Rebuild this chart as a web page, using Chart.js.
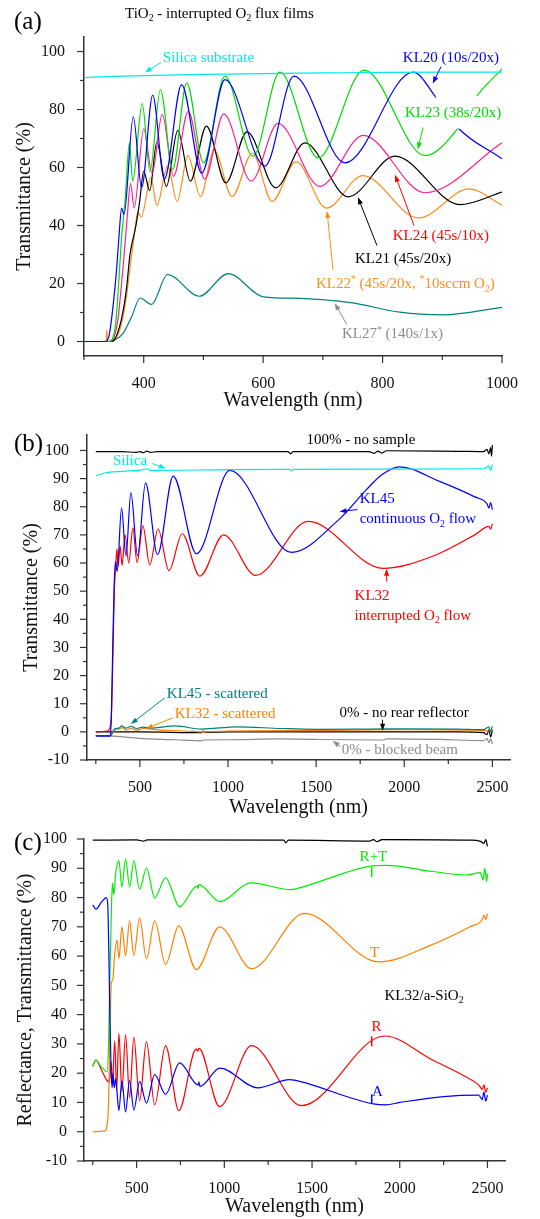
<!DOCTYPE html>
<html>
<head>
<meta charset="utf-8">
<script src="https://cdn.jsdelivr.net/npm/chart.js@4.4.0/dist/chart.umd.min.js"></script>
<style>
  html, body { margin: 0; padding: 0; background: #fff; }
  #wrap { width: 540px; height: 1219px; }
  canvas { display: block; }
</style>
</head>
<body>
<div id="wrap">
  <canvas id="panel-a" width="540" height="415"></canvas>
  <canvas id="panel-b" width="540" height="405"></canvas>
  <canvas id="panel-c" width="540" height="399"></canvas>
</div>
<script>
// ---- (a) TiO2 films, wavelength (nm) vs transmittance (%) ----
const silicaA = [[300,91.0],[350,91.4],[400,91.7],[500,92.1],[600,92.4],[700,92.6],[800,92.8],[900,92.9],[1000,92.9]];
const kl20 = [[300,0],[336,0],[342,2],[348,11],[355,26],[359,37.5],[363,46],[367,43.8],[382.5,77.5],[396.5,53],[415,85],[434.5,56],[463.5,88.6],[497,58],[536,90.3],[603,60.5],[651.5,91.5],[737,61.6],[851,92.9],[890,84],[926,73.7],[1000,63]];
const kl23 = [[300,0],[343,0],[348,1],[353,6],[358,20],[363,36],[369,49],[376,68.5],[381.5,55.3],[397.5,82],[410.5,58.7],[428,86.9],[448.5,59.3],[472,89.2],[500,61.6],[536,91.5],[583,63.9],[628,92.9],[692,63.3],[769,93.6],[871,64.1],[926,73.5],[957,84.4],[1000,94]];
const kl24 = [[300,0],[340,0],[350,1.5],[357,8],[362,18],[366,27],[372,42],[378,54.5],[384,46],[400,73.3],[414,58],[431,78.3],[450,57],[474.6,79.4],[502,56],[534,78.5],[580,55.3],[625,75.2],[695,53.5],[767.6,71.1],[871,51.3],[1000,68.5]];
const kl21 = [[300,0],[345,0],[352,1],[363,8],[371,18],[377,30],[387,40],[393,48],[400,58.7],[410,52],[422,68.7],[438,53.5],[457,72.8],[478,55.3],[505,74.3],[537.5,54.7],[573,72.3],[621,53],[670,68.5],[742.5,49.9],[820.6,63.9],[929.5,47.2],[1000,51.5]];
const kl22 = [[300,0],[337,0],[338,4],[339.5,0],[350,0.5],[360,4],[370,14],[378,27],[385,38],[390,44.5],[396,43],[412,56.5],[422,46.9],[440,60.5],[456,48.3],[474,64.1],[495,50],[518,66],[548,50],[582,65],[615,48.3],[655,62],[706,46],[767,57.2],[860,42.6],[945,52.6],[1000,47]];
const kl27 = [[300,0],[340,0],[349,0.3],[366,3],[380,8.7],[394,15],[413,12.8],[440,23.1],[493,15.6],[541.5,23.4],[600,15.4],[661,14.9],[717,14.1],[750,13.3],[829,10.1],[901,9.2],[1000,11.8]];
const xMajorA = [400, 600, 800, 1000];
const xMinorA = [300, 500, 700, 900];
const yMajorA = [0, 20, 40, 60, 80, 100];
const yMinorA = [10, 30, 50, 70, 90];

// ---- (b) KL45 / KL32 and references ----
const noSampleB = [[250,99.6],[400,99.6],[480,99.3],[500,99.6],[520,99.2],[540,99.8],[560,99.3],[600,99.6],[1000,99.6],[1340,99.6],[1355,98.8],[1370,99.6],[1800,99.6],[1830,99.0],[1850,99.8],[1870,99.1],[1900,99.9],[2300,99.7],[2450,99.6],[2470,100.4],[2480,98.8],[2490,101],[2495,98],[2500,102]];
const silicaB = [[250,91],[300,92],[400,92.6],[500,93],[540,93.5],[560,92.9],[1000,93.2],[1350,93.3],[1360,92.8],[1370,93.3],[2000,93.4],[2450,93.5],[2480,94.5],[2490,93],[2500,95]];
const kl45 = [[250,-1.5],[332,-1.5],[338,5],[346,30],[354,52],[362,60.6],[371,57],[396,79.6],[421,62.5],[449,85],[487,62.6],[532,88.5],[600,63],[689,90.9],[821,63.3],[1010,92.9],[1360,63.8],[1633,75.7],[1784,86],[1878,91.6],[1973,94.2],[2200,89],[2400,83.5],[2470,81],[2480,79.5],[2490,81.5],[2500,79]];
const kl32 = [[250,0],[315,0.3],[330,1.5],[340,8],[348,30],[355,50],[362,58],[370,65],[376,58.5],[388,66],[399,59.2],[416,70],[437,60],[460,72.5],[484,60.2],[517,73.2],[556,59.3],[603,72.1],[665,57.3],[740,70.4],[840,55.3],[975,70],[1157,55.6],[1455,74.8],[1880,58.1],[2161,62.4],[2400,70],[2480,73],[2490,72],[2500,74]];
const scat45 = [[250,-1.3],[335,-1.3],[345,0],[360,1.2],[380,1.3],[396,2.1],[420,1.3],[450,2],[480,1.2],[520,1.7],[560,1.3],[600,1.5],[700,2.1],[850,1],[1050,1.8],[1300,1.2],[1500,0.9],[1800,1],[2000,1.1],[2300,1],[2450,0.8],[2480,1.8],[2490,0],[2500,2]];
const scat32 = [[250,-1.3],[335,-1.3],[345,-0.5],[360,0.8],[380,1],[400,1.5],[420,0.6],[450,1.3],[480,0.6],[520,1.2],[600,0.7],[800,0.2],[850,0],[1000,0.3],[1500,0.5],[2000,0.8],[2400,0.6],[2490,0.3],[2500,1]];
const zeroRear = [[250,0],[500,0],[850,-0.3],[860,0.3],[870,-0.2],[1000,0],[1500,0],[2300,0],[2450,-0.3],[2470,-1],[2480,0.8],[2490,-1.8],[2500,0.5]];
const blocked = [[250,-1.3],[330,-1.4],[500,-2.3],[700,-2.8],[850,-3.2],[860,-2.9],[1000,-2.8],[1300,-2.5],[1500,-2.7],[1880,-2.9],[1900,-2.5],[2200,-2.7],[2450,-3.1],[2470,-2.4],[2480,-3.8],[2490,-2.5],[2500,-4.2]];
const xMajorBC = [500, 1000, 1500, 2000, 2500];
const xMinorBC = [250, 750, 1250, 1750, 2250];
const yMajorBC = [-10, 0, 10, 20, 30, 40, 50, 60, 70, 80, 90, 100];
const yMinorBC = [-5, 5, 15, 25, 35, 45, 55, 65, 75, 85, 95];

// ---- (c) KL32 on a-SiO2: R, T, R+T, A ----
const top100C = [[250,99.6],[500,99.7],[540,99.3],[560,99.7],[1340,99.6],[1350,98.7],[1365,99.6],[1830,99.3],[1850,99.8],[1870,99.1],[1900,99.8],[2400,99.6],[2460,99.2],[2480,98.5],[2490,99.8],[2500,97.5]];
const sumRT = [[250,22.4],[268,24.5],[300,22],[331,20.5],[340,30],[348,55],[356,75],[362,84.9],[370,81],[380,88],[399,92.6],[416,83.6],[437,93.2],[460,83.6],[484,92.6],[517,82.8],[556,90.1],[603,79.9],[665,86.7],[745,76.9],[845,84],[850,83.2],[855,84.4],[975,78.6],[1150,85],[1380,82.7],[1410,83],[1810,90.5],[1923,91],[2188,88.9],[2378,87.7],[2460,88.5],[2475,86],[2485,90],[2495,85.5],[2500,88]];
const transT = [[250,0],[320,0.3],[330,1.7],[340,10],[348,35],[356,51],[364,51.8],[374,60],[388,65.5],[399,59.2],[416,70],[437,60],[460,72],[484,60.2],[517,73],[556,59],[603,72],[665,57.2],[740,70.3],[840,55.4],[973,70],[1155,55.7],[1457,74.6],[1880,58],[2188,64],[2400,70],[2470,72.5],[2480,74],[2490,72.5],[2500,74.5]];
const reflR = [[250,22.4],[268,24.5],[300,21],[331,17.5],[345,17],[355,24],[362,16],[375,31],[386,14],[399,33.6],[416,13.7],[437,33.1],[460,11.7],[484,32.3],[517,10.6],[556,30.8],[603,9.2],[665,29.4],[740,7.2],[840,28.3],[848,27.5],[855,28.5],[973,8.6],[1155,29.4],[1440,8.9],[1913,32.7],[2187,24.5],[2376,18.8],[2450,16],[2470,14.5],[2480,16],[2490,13.5],[2500,15]];
const absA = [[250,77.5],[268,76],[300,78.5],[327,80],[335,78],[342,60],[348,38],[354,22],[360,15],[366,20],[372,15],[380,18],[399,7.2],[416,17.5],[437,6.8],[460,17.5],[484,7.4],[517,17.2],[556,9.8],[603,19.5],[665,12.8],[745,23.5],[850,16],[855,17],[860,15.5],[975,21.7],[1190,15],[1372,17.8],[1400,17.6],[1850,9.5],[1920,9.2],[2000,10],[2250,12],[2450,12.5],[2470,11],[2480,13.5],[2490,10.5],[2500,12.5]];

const FONT = '"Liberation Serif", "Times New Roman", serif';

function fontOf(size) { return size + 'px ' + FONT; }

// text with sub/superscripts: parts = [[text], [text, 'sub'|'sup'], ...]
function drawRich(ctx, parts, x, y, size, color, align) {
    let w = 0;
    parts.forEach(p => { ctx.font = fontOf(p[1] ? size * 0.65 : size); w += ctx.measureText(p[0]).width; });
    let cx = align === 'center' ? x - w / 2 : x;
    ctx.fillStyle = color;
    ctx.textAlign = 'left';
    ctx.textBaseline = 'middle';
    parts.forEach(p => {
        ctx.font = fontOf(p[1] ? size * 0.65 : size);
        const dy = p[1] === 'sub' ? size * 0.32 : p[1] === 'sup' ? -size * 0.3 : 0;
        ctx.fillText(p[0], cx, y + dy);
        cx += ctx.measureText(p[0]).width;
    });
}

function drawArrow(ctx, x1, y1, x2, y2, color) {
    const ang = Math.atan2(y2 - y1, x2 - x1);
    const len = 7, half = 2.6;
    const c = Math.cos(ang), s = Math.sin(ang);
    ctx.strokeStyle = color;
    ctx.fillStyle = color;
    ctx.lineWidth = 1;
    ctx.beginPath();
    ctx.moveTo(x1, y1);
    ctx.lineTo(x2 - c * len * 0.8, y2 - s * len * 0.8);
    ctx.stroke();
    ctx.beginPath();
    ctx.moveTo(x2, y2);
    ctx.lineTo(x2 - len * c + half * s, y2 - len * s - half * c);
    ctx.lineTo(x2 - len * c - half * s, y2 - len * s + half * c);
    ctx.closePath();
    ctx.fill();
}

// outward major/minor tick marks
const axisTicks = {
    id: 'axisTicks',
    afterDraw(chart, args, opts) {
        const {ctx, chartArea: a} = chart;
        const xs = chart.scales.x, ys = chart.scales.y;
        const seg = (x1, y1, x2, y2) => { ctx.beginPath(); ctx.moveTo(x1, y1); ctx.lineTo(x2, y2); ctx.stroke(); };
        ctx.save();
        ctx.strokeStyle = '#333';
        ctx.lineWidth = 1.2;
        opts.xMajor.forEach(v => { const p = xs.getPixelForValue(v); seg(p, a.bottom, p, a.bottom + 7); });
        opts.xMinor.forEach(v => { const p = xs.getPixelForValue(v); seg(p, a.bottom, p, a.bottom + 4); });
        opts.yMajor.forEach(v => { const p = ys.getPixelForValue(v); seg(a.left, p, a.left - 7, p); });
        opts.yMinor.forEach(v => { const p = ys.getPixelForValue(v); seg(a.left, p, a.left - 4, p); });
        ctx.restore();
    }
};

// labels, arrows and masks given in data coordinates
const notes = {
    id: 'notes',
    afterDatasetsDraw(chart, args, opts) {
        const {ctx} = chart;
        const px = v => chart.scales.x.getPixelForValue(v);
        const py = v => chart.scales.y.getPixelForValue(v);
        ctx.save();
        (opts.boxes || []).forEach(b => {
            ctx.fillStyle = '#fff';
            ctx.fillRect(px(b.x1), py(b.y1), px(b.x2) - px(b.x1), py(b.y2) - py(b.y1));
        });
        (opts.arrows || []).forEach(a => drawArrow(ctx, px(a.from[0]), py(a.from[1]), px(a.to[0]), py(a.to[1]), a.color));
        (opts.bars || []).forEach(b => {
            ctx.strokeStyle = b.color;
            ctx.lineWidth = 1.5;
            ctx.beginPath();
            ctx.moveTo(px(b.x), py(b.y1));
            ctx.lineTo(px(b.x), py(b.y2));
            ctx.stroke();
        });
        (opts.labels || []).forEach(l => drawRich(ctx, l.parts, px(l.at[0]), py(l.at[1]), l.size || 15, l.color, l.align || 'left'));
        (opts.fixed || []).forEach(l => drawRich(ctx, l.parts, l.px, l.py, l.size, l.color || '#000', 'left'));
        ctx.restore();
    }
};

function buildPanel(id, p) {
    const canvas = document.getElementById(id);
    const W = canvas.width, H = canvas.height;
    const tickFont = {family: FONT, size: 16};
    const titleFont = {family: FONT, size: 20};
    return new Chart(canvas, {
        type: 'scatter',
        data: {
            datasets: p.series.map(s => ({
                data: s.data,
                borderColor: s.color,
                borderWidth: 1.2,
                showLine: true,
                pointRadius: 0,
                fill: false,
                cubicInterpolationMode: 'monotone'
            }))
        },
        options: {
            responsive: false,
            animation: false,
            devicePixelRatio: 1,
            layout: {padding: {top: p.area.top, right: W - p.area.right, left: 0, bottom: 0}},
            plugins: {
                legend: {display: false},
                tooltip: {enabled: false},
                axisTicks: {xMajor: p.xMajor, xMinor: p.xMinor, yMajor: p.yMajor, yMinor: p.yMinor},
                notes: p.notes
            },
            scales: {
                x: {
                    type: 'linear',
                    min: p.xRange[0],
                    max: p.xRange[1],
                    afterFit: s => { s.height = H - p.area.bottom; },
                    afterBuildTicks: s => { s.ticks = p.xMajor.map(v => ({value: v})); },
                    grid: {display: false},
                    border: {display: true, color: '#333', width: 1.5},
                    ticks: {padding: 10, color: '#111', font: tickFont, maxRotation: 0, autoSkip: false, callback: v => String(v)},
                    title: {display: true, text: 'Wavelength (nm)', color: '#111', font: titleFont, padding: {top: 0, bottom: p.xTitlePad}}
                },
                y: {
                    min: p.yRange[0],
                    max: p.yRange[1],
                    afterFit: s => { s.width = p.area.left; },
                    afterBuildTicks: s => { s.ticks = p.yMajor.map(v => ({value: v})); },
                    grid: {display: false},
                    border: {display: true, color: '#333', width: 1.5},
                    ticks: {padding: p.yTickPad, color: '#111', font: tickFont, autoSkip: false, callback: v => String(v)},
                    title: {display: true, text: p.yTitle, color: '#111', font: titleFont, padding: {top: p.yTitlePad, bottom: 0}}
                }
            }
        },
        plugins: [axisTicks, notes]
    });
}

// (a)
buildPanel('panel-a', {
    area: {left: 84, right: 502, top: 37, bottom: 356},
    xRange: [300, 1000], yRange: [-5, 105],
    xMajor: xMajorA, xMinor: xMinorA, yMajor: yMajorA, yMinor: yMinorA,
    yTitle: 'Transmittance (%)', yTitlePad: 13, yTickPad: 11, xTitlePad: 2,
    series: [
        {data: silicaA, color: '#00e8e8'},
        {data: kl20, color: '#0000ff'},
        {data: kl23, color: '#00dd00'},
        {data: kl24, color: '#ff2090'},
        {data: kl21, color: '#000000'},
        {data: kl22, color: '#ff8c1a'},
        {data: kl27, color: '#008080'}
    ],
    notes: {
        boxes: [{x1: 889, x2: 1000, y1: 84.6, y2: 73.4}],
        arrows: [
            {from: [429, 96.2], to: [402, 92.8], color: '#00e8e8'},
            {from: [898, 94.8], to: [884, 89], color: '#0000ff'},
            {from: [867.6, 73.8], to: [859, 66.2], color: '#00dd00'},
            {from: [852.6, 40], to: [820.8, 57.5], color: '#ff0000'},
            {from: [790.6, 33.1], to: [758.8, 49.7], color: '#000000'},
            {from: [716.9, 24.8], to: [707, 45], color: '#ff8c1a'},
            {from: [740, 5.9], to: [720, 13.2], color: '#8c8c8c'}
        ],
        labels: [
            {parts: [['Silica substrate']], at: [432, 97.9], color: '#00e8e8'},
            {parts: [['KL20 (10s/20x)']], at: [834, 97.9], color: '#0000ff'},
            {parts: [['KL23 (38s/20x)']], at: [837.5, 78.6], color: '#00dd00'},
            {parts: [['KL24 (45s/10x)']], at: [817, 36.3], color: '#ff0000'},
            {parts: [['KL21 (45s/20x)']], at: [753.8, 28.3], color: '#000000'},
            {parts: [['KL22'], ['*', 'sup'], [' (45s/20x, '], ['*', 'sup'], ['10sccm O'], ['2', 'sub'], [')']], at: [688.5, 19.7], color: '#ff8c1a'},
            {parts: [['KL27'], ['*', 'sup'], [' (140s/1x)']], at: [732, 2.4], color: '#8c8c8c'}
        ],
        fixed: [
            {parts: [['(a)']], px: 14, py: 22, size: 25},
            {parts: [['TiO'], ['2', 'sub'], [' - interrupted O'], ['2', 'sub'], [' flux films']], px: 125, py: 14, size: 15}
        ]
    }
});

// (b)
buildPanel('panel-b', {
    area: {left: 87, right: 510, top: 20, bottom: 345},
    xRange: [200, 2600], yRange: [-10, 105.5],
    xMajor: xMajorBC, xMinor: xMinorBC, yMajor: yMajorBC, yMinor: yMinorBC,
    yTitle: 'Transmittance (%)', yTitlePad: 20, yTickPad: 10, xTitlePad: 0,
    series: [
        {data: noSampleB, color: '#000000'},
        {data: silicaB, color: '#00e8e8'},
        {data: kl45, color: '#0000ff'},
        {data: kl32, color: '#ff0000'},
        {data: scat45, color: '#008080'},
        {data: scat32, color: '#ff8000'},
        {data: zeroRear, color: '#000000'},
        {data: blocked, color: '#8c8c8c'}
    ],
    notes: {
        arrows: [
            {from: [568, 95.4], to: [647, 93.6], color: '#00e8e8'},
            {from: [1735, 79], to: [1633, 78.3], color: '#0000ff'},
            {from: [1900, 53.4], to: [1900, 58], color: '#ff0000'},
            {from: [641.6, 12.1], to: [449, 2.8], color: '#008080'},
            {from: [687, 5], to: [534, 1.1], color: '#ff8000'},
            {from: [1877, 4.3], to: [1877, 0.4], color: '#000000'},
            {from: [1639, -5.3], to: [1594, -3.2], color: '#8c8c8c'}
        ],
        labels: [
            {parts: [['100% - no sample']], at: [1446, 103.6], color: '#000000'},
            {parts: [['Silica']], at: [347, 96.1], color: '#00e8e8'},
            {parts: [['KL45']], at: [1747, 82.6], color: '#0000ff'},
            {parts: [['continuous O'], ['2', 'sub'], [' flow']], at: [1747, 75.5], color: '#0000ff'},
            {parts: [['KL32']], at: [1718, 48.4], color: '#ff0000'},
            {parts: [['interrupted O'], ['2', 'sub'], [' flow']], at: [1718, 41.3], color: '#ff0000'},
            {parts: [['KL45 - scattered']], at: [653, 13.5], color: '#008080'},
            {parts: [['KL32 - scattered']], at: [698, 6.4], color: '#ff8000'},
            {parts: [['0% - no rear reflector']], at: [1633, 6.8], color: '#000000'},
            {parts: [['0% - blocked beam']], at: [1645, -6.4], color: '#8c8c8c'}
        ],
        fixed: [
            {parts: [['(b)']], px: 14, py: 29, size: 25}
        ]
    }
});

// (c)
buildPanel('panel-c', {
    area: {left: 84, right: 505, top: 19, bottom: 341},
    xRange: [200, 2600], yRange: [-10, 100],
    xMajor: xMajorBC, xMinor: xMinorBC, yMajor: yMajorBC, yMinor: yMinorBC,
    yTitle: 'Reflectance, Transmittance (%)', yTitlePad: 14, yTickPad: 9, xTitlePad: 0,
    series: [
        {data: top100C, color: '#000000'},
        {data: absA, color: '#0000ff'},
        {data: sumRT, color: '#00ee00'},
        {data: transT, color: '#ff8000'},
        {data: reflR, color: '#ff0000'}
    ],
    notes: {
        bars: [
            {x: 1840, y1: 90.4, y2: 87, color: '#00ee00'},
            {x: 1840, y1: 32.6, y2: 29.2, color: '#ff0000'},
            {x: 1840, y1: 12.8, y2: 9.6, color: '#0000ff'}
        ],
        labels: [
            {parts: [['R+T']], at: [1850, 93.8], color: '#00ee00', align: 'center'},
            {parts: [['T']], at: [1856, 61], color: '#ff8000', align: 'center'},
            {parts: [['KL32/a-SiO'], ['2', 'sub']], at: [1913, 46.4], color: '#000000'},
            {parts: [['R']], at: [1867, 35.8], color: '#ff0000', align: 'center'},
            {parts: [['A']], at: [1873, 13.6], color: '#0000ff', align: 'center'}
        ],
        fixed: [
            {parts: [['(c)']], px: 14, py: 23, size: 25}
        ]
    }
});
</script>
</body>
</html>
